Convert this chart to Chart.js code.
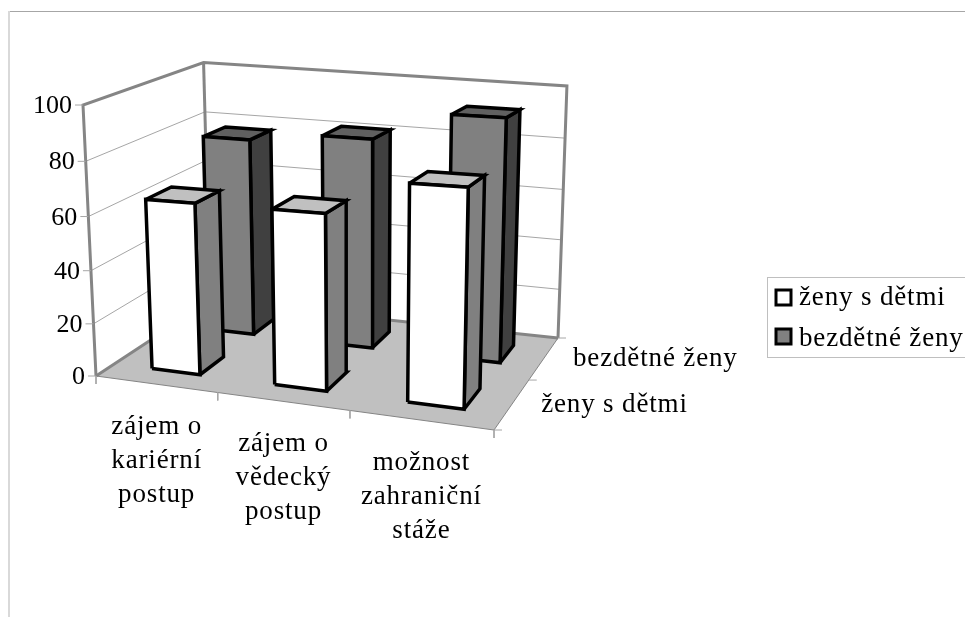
<!DOCTYPE html>
<html>
<head>
<meta charset="utf-8">
<style>
  html, body { margin: 0; padding: 0; background: #fff; }
  #wrap { width: 965px; height: 617px; }
</style>
<script src="https://cdn.jsdelivr.net/npm/chart.js@4"></script>
</head>
<body>
<div id="wrap"><canvas id="chart" width="965" height="617"></canvas></div>
<script>
// data
const categories = [['zájem o', 'kariérní', 'postup'], ['zájem o', 'vědecký', 'postup'], ['možnost', 'zahraniční', 'stáže']];
const seriesNames = ['ženy s dětmi', 'bezdětné ženy'];
const zenySDetmi = [64, 64, 76.5];
const bezdetneZeny = [77.5, 81, 92];
const valueTicks = [0, 20, 40, 60, 80, 100];

const FONT = '27px "Liberation Serif"';
const GRID = '#a6a6a6';
const AXIS = '#858585';

// camera: floor corners (front-left, front-right, back-right, back-left) plus the vertical vanishing point
const floor = [[96, 376], [494, 430], [558, 338], [210, 301]];
const vanish = [361, 5900];
const lift = -0.0004676;

const den = (floor[1][0] - floor[2][0]) * (floor[3][1] - floor[2][1]) - (floor[3][0] - floor[2][0]) * (floor[1][1] - floor[2][1]);
const sx = floor[0][0] - floor[1][0] + floor[2][0] - floor[3][0];
const sy = floor[0][1] - floor[1][1] + floor[2][1] - floor[3][1];
const g = (sx * (floor[3][1] - floor[2][1]) - (floor[3][0] - floor[2][0]) * sy) / den;
const h = ((floor[1][0] - floor[2][0]) * sy - sx * (floor[1][1] - floor[2][1])) / den;

// u = category position 0..3, d = row position 0..2, v = value
function project(u, d, v) {
  const s = u / categories.length, t = d / seriesNames.length;
  const k = v * lift * (1 + 0.018 * t - 0.047 * s * t);  // the back wall is a bit lower on the right
  const X = (floor[1][0] * (1 + g) - floor[0][0]) * s + (floor[3][0] * (1 + h) - floor[0][0]) * t + floor[0][0] + k * vanish[0];
  const Y = (floor[1][1] * (1 + g) - floor[0][1]) * s + (floor[3][1] * (1 + h) - floor[0][1]) * t + floor[0][1] + k * vanish[1];
  const W = g * s + h * t + 1 + k;
  return { x: X / W, y: Y / W };
}

function poly(points, fill, stroke, width) {
  return {
    data: points.concat([points[0]]),
    showLine: true, pointRadius: 0, tension: 0,
    fill: 'shape', backgroundColor: fill,
    borderColor: stroke, borderWidth: width, borderJoinStyle: 'miter'
  };
}
function path(points, color, width) {
  return {
    data: points, showLine: true, pointRadius: 0, tension: 0, fill: false,
    borderColor: color, borderWidth: width, borderJoinStyle: 'miter'
  };
}

const rows = [zenySDetmi, bezdetneZeny];
const faceColors = [
  { front: '#ffffff', side: '#808080', top: '#c0c0c0' },
  { front: '#808080', side: '#404040', top: '#606060' }
];
const barGap = 0.32, barWidth = 0.40, rowGap = 0.29, rowDepth = 0.42;

let draw = [];  // back to front

// floor and walls
draw.push(poly([project(0, 0, 0), project(3, 0, 0), project(3, 2, 0), project(0, 2, 0)], '#c0c0c0', AXIS, 1));
valueTicks.slice(1, -1).forEach(v => {
  draw.push(path([project(0, 0, v), project(0, 2, v), project(3, 2, v)], GRID, 1));
});
draw.push(path([project(0, 0, 0), project(0, 2, 0), project(3, 2, 0)], AXIS, 3));
draw.push(path([project(0, 2, 0), project(0, 2, 100)], AXIS, 3));
draw.push(path([project(0, 0, 0), project(0, 0, 100), project(0, 2, 100), project(3, 2, 100), project(3, 2, 0)], AXIS, 3));

// ticks
valueTicks.forEach(v => {
  const p = project(0, 0, v);
  draw.push(path([{ x: p.x - 8, y: p.y }, p], GRID, 1));
});
categories.concat([null]).forEach((c, i) => {
  const p = project(i, 0, 0);
  draw.push(path([p, { x: p.x, y: p.y + 8 }], GRID, 1));
});
[0, 1, 2].forEach(d => {
  const p = project(3, d, 0);
  draw.push(path([p, { x: p.x + 8, y: p.y }], GRID, 1));
});

// bars, back row first
[1, 0].forEach(r => {
  rows[r].forEach((val, c) => {
    const u0 = c + barGap, u1 = u0 + barWidth, d0 = r + rowGap, d1 = d0 + rowDepth;
    const col = faceColors[r];
    draw.push(poly([project(u1, d0, 0), project(u1, d1, 0), project(u1, d1, val), project(u1, d0, val)], col.side, '#000', 3.5));
    draw.push(poly([project(u0, d0, val), project(u1, d0, val), project(u1, d1, val), project(u0, d1, val)], col.top, '#000', 3.5));
    draw.push(poly([project(u0, d0, 0), project(u1, d0, 0), project(u1, d0, val), project(u0, d0, val)], col.front, '#000', 3.5));
  });
});

const textPlugin = {
  id: 'texts',
  beforeDraw(chart) {
    const ctx = chart.ctx;
    ctx.save();
    ctx.fillStyle = '#fff';
    ctx.fillRect(0, 0, 965, 617);
    // outer frame of the picture
    ctx.fillStyle = '#a6a6a6';
    ctx.fillRect(8, 11, 957, 1);
    ctx.fillStyle = '#d9d9d9';
    ctx.fillRect(8, 11, 2, 606);
    ctx.restore();
  },
  afterDraw(chart) {
    const ctx = chart.ctx;
    const xs = chart.scales.x, ys = chart.scales.y;
    ctx.save();
    ctx.fillStyle = '#000';

    ctx.font = '26px "Liberation Serif"';
    ctx.textAlign = 'right';
    valueTicks.forEach(v => {
      const p = project(0, 0, v);
      ctx.fillText(String(v), xs.getPixelForValue(p.x - 11), ys.getPixelForValue(p.y + 8));
    });

    ctx.font = FONT;
    ctx.letterSpacing = '0.85px';
    ctx.textAlign = 'center';
    categories.forEach((lines, i) => {
      const p = project(i + 0.5, 0, 0);
      lines.forEach((t, n) => {
        ctx.fillText(t, xs.getPixelForValue(p.x + 1), ys.getPixelForValue(p.y + 50 + n * 34));
      });
    });

    ctx.textAlign = 'left';
    seriesNames.forEach((t, i) => {
      const p = project(3, i + 0.5, 0);
      ctx.fillText(t, xs.getPixelForValue(p.x + 29), ys.getPixelForValue(p.y + 8));
    });

    // legend, its right edge runs off the picture
    ctx.strokeStyle = '#bfbfbf';
    ctx.lineWidth = 1;
    ctx.strokeRect(767.5, 277.5, 205, 80);
    seriesNames.forEach((t, i) => {
      const y = 290 + i * 39;
      ctx.fillStyle = faceColors[i].front;
      ctx.fillRect(776, y, 15, 15);
      ctx.strokeStyle = '#000';
      ctx.lineWidth = 3;
      ctx.strokeRect(776, y, 15, 15);
      ctx.fillStyle = '#000';
      ctx.fillText(t, 799, 305 + i * 41);
    });
    ctx.restore();
  }
};

new Chart(document.getElementById('chart'), {
  type: 'scatter',
  data: { datasets: draw.reverse() },  // chart.js paints the first dataset last
  options: {
    responsive: false,
    animation: false,
    layout: { padding: 0 },
    scales: {
      x: { type: 'linear', min: 0, max: 965, display: false },
      y: { type: 'linear', min: 0, max: 617, reverse: true, display: false }
    },
    plugins: { legend: { display: false }, tooltip: { enabled: false } }
  },
  plugins: [textPlugin]
});
</script>
</body>
</html>
